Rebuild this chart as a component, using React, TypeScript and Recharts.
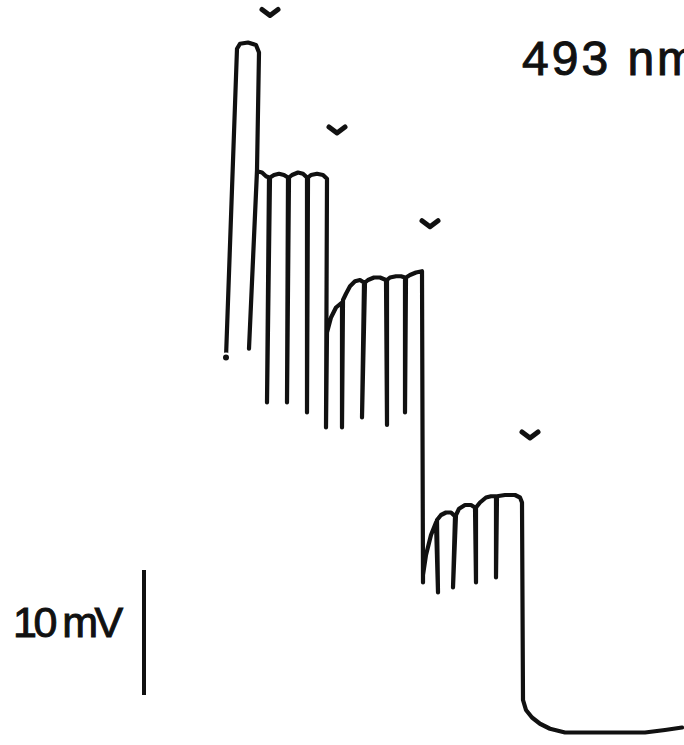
import React from "react";
import { ComposedChart, Line, Scatter, XAxis, YAxis, ReferenceLine } from "recharts";

// time in s, membrane potential in mV (relative)
const firstFlash = [
  [2.26, -28.6], [2.37, -3.9], [2.4, -3.5], [2.48, -3.4], [2.56, -3.6], [2.59, -4.2],
  [2.57, -13.6], [2.49, -27.9], [2.57, -13.7],
];
const plateau1 = [
  [2.62, -13.8], [2.66, -14.1], [2.69, -14.2], [2.67, -32.2], [2.7, -14.2],
  [2.74, -14.0], [2.79, -13.9], [2.84, -14.0], [2.88, -14.2], [2.87, -32.2], [2.89, -14.2],
  [2.92, -14.0], [2.98, -13.8], [3.03, -13.9], [3.07, -14.2], [3.07, -33.0], [3.08, -14.2],
  [3.11, -14.0], [3.17, -13.9], [3.23, -14.0], [3.27, -14.3], [3.26, -34.2],
];
const plateau2 = [
  [3.27, -26.6], [3.31, -25.4], [3.36, -24.6], [3.42, -24.2], [3.42, -34.2], [3.43, -24.0],
  [3.46, -23.5], [3.5, -22.9], [3.55, -22.5], [3.6, -22.4], [3.64, -22.6], [3.62, -33.4], [3.65, -22.6],
  [3.68, -22.4], [3.74, -22.2], [3.8, -22.2], [3.86, -22.4], [3.87, -34.0], [3.87, -22.4],
  [3.9, -22.2], [3.96, -22.1], [4.01, -22.1], [4.05, -22.2], [4.05, -33.0], [4.06, -22.2],
  [4.1, -22.0], [4.16, -21.8], [4.22, -21.7], [4.23, -46.6],
];
const plateau3 = [
  [4.23, -46.0], [4.26, -44.4], [4.31, -42.8], [4.36, -41.8], [4.38, -47.4], [4.37, -41.6],
  [4.41, -41.2], [4.46, -41.0], [4.51, -41.0], [4.55, -41.3], [4.53, -47.0], [4.56, -41.2],
  [4.59, -40.7], [4.65, -40.4], [4.71, -40.4], [4.75, -40.6], [4.76, -46.6], [4.76, -40.6],
  [4.8, -40.2], [4.86, -39.8], [4.91, -39.7], [4.96, -39.7], [4.96, -46.2], [4.97, -39.7],
  [5.05, -39.6], [5.15, -39.6], [5.2, -39.8], [5.22, -40.2],
];
const lightOff = [
  [5.23, -56.0], [5.26, -56.8], [5.32, -57.4], [5.4, -57.9], [5.5, -58.3], [5.65, -58.6],
  [5.9, -58.6], [6.2, -58.6], [6.45, -58.6], [6.65, -58.4], [6.82, -58.2],
];

// flash markers
const markerT = [2.7, 3.37, 4.3, 5.3];
const markerV = [-1.0, -10.4, -17.9, -34.8];

const trace = [...firstFlash, ...plateau1, ...plateau2, ...plateau3, ...lightOff].map(([t, v]) => ({ t, v }));
const markers = markerT.map((t, i) => ({ t, v: markerV[i] }));

const INK = "#111";

const Chevron = (props: any) => {
  const { cx, cy } = props;
  return (
    <path
      d={`M${cx - 8},${cy - 3} L${cx},${cy + 3} L${cx + 8},${cy - 3}`}
      fill="none"
      stroke={INK}
      strokeWidth={5}
      strokeLinecap="round"
      strokeLinejoin="round"
    />
  );
};

export default function App() {
  return (
    <div style={{ position: "absolute", left: 0, top: 0, width: 684, height: 745, background: "#fff" }}>
      <ComposedChart width={684} height={745} margin={{ top: 0, right: 0, bottom: 0, left: 0 }}>
        <XAxis type="number" dataKey="t" domain={[0, 6.84]} hide />
        <YAxis type="number" dataKey="v" domain={[-59.6, 0]} hide />
        <ReferenceLine
          segment={[{ x: 1.44, y: -45.6 }, { x: 1.44, y: -55.6 }]}
          stroke={INK}
          strokeWidth={4}
        />
        <Line
          data={trace}
          dataKey="v"
          type="linear"
          stroke={INK}
          strokeWidth={4.2}
          strokeLinejoin="round"
          strokeLinecap="round"
          dot={false}
          isAnimationActive={false}
        />
        <Scatter data={markers} dataKey="v" shape={<Chevron />} isAnimationActive={false} />
        <text x={522} y={75} fontFamily="Liberation Sans, Arial, sans-serif" fontSize={48} letterSpacing={3}
          fill={INK} stroke={INK} strokeWidth={1}>
          493 nm
        </text>
        <text x={13} y={637} fontFamily="Liberation Sans, Arial, sans-serif" fontSize={43} letterSpacing={-3.5}
          fill={INK} stroke={INK} strokeWidth={1}>
          10 mV
        </text>
      </ComposedChart>
    </div>
  );
}
